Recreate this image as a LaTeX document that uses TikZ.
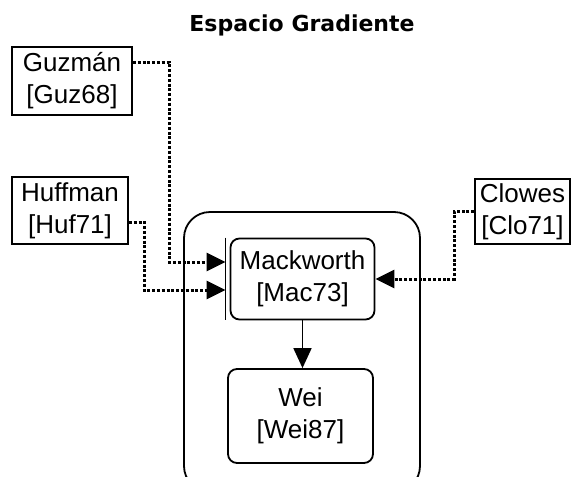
\documentclass[tikz,border=0pt]{standalone}
\usepackage{fontspec}
\setmainfont{Liberation Sans}
\newfontfamily\titlefont{DejaVu Sans}
\usetikzlibrary{arrows.meta,positioning}

\tikzset{
  refbox/.style={draw=black, line width=1.8pt, inner sep=0pt, align=center,
    font=\fontsize{26}{32}\selectfont},
  workbox/.style={refbox, rounded corners=9pt},
  citeline/.style={line width=3pt, dash pattern=on 3pt off 1.8pt,
    -{Triangle[length=19pt,width=18pt]}},
}

\begin{document}
\begin{tikzpicture}[x=1pt,y=-1pt]
        \useasboundingbox (0,0) rectangle (571,477);
        \clip (0,0) rectangle (571,477);
        % Draw title
        \node[font=\titlefont\bfseries\fontsize{22}{26}\selectfont, anchor=base] (title) at (302,31) {Espacio Gradiente};
        % Draw outer frame
        \draw[line width=1.8pt, rounded corners=26pt] (184,212) rectangle (420,492);
        % Draw inner boxes
        \node[workbox, minimum width=144pt, minimum height=81pt] (mac) at (302.5,279) {Mackworth\\{[Mac73]}};
        \node[workbox, minimum width=145pt, minimum height=94pt] (wei) at (300.5,416) {Wei\\{[Wei87]}};
        % Draw sources
        \node[refbox, minimum width=120pt, minimum height=68pt] (guz) at (72,81) {Guzmán\\{[Guz68]}};
        \node[refbox, minimum width=116pt, minimum height=67pt] (huf) at (70,210.5) {Huffman\\{[Huf71]}};
        \node[refbox, minimum width=95pt, minimum height=65pt] (clo) at (522.5,211.5) {Clowes\\{[Clo71]}};
        % Draw bar and links
        \draw[line width=1.3pt] ([xshift=-4pt]mac.north west) -- ([xshift=-4pt]mac.south west);
        \coordinate (bar) at ([xshift=-4pt]mac.west);
        \draw[citeline] ([yshift=19pt]guz.east) -| (169,262) -- ([yshift=17pt]bar);
        \draw[citeline] ([yshift=-11.5pt]huf.east) -| (144,290) -- ([yshift=-11pt]bar);
        \draw[citeline] (clo.west) -| (454,279) -- (mac.east);
        \draw[line width=1.8pt, -{Triangle[length=20pt,width=18pt]}] (mac.south) -- (mac.south |- wei.north);
\end{tikzpicture}
\end{document}
